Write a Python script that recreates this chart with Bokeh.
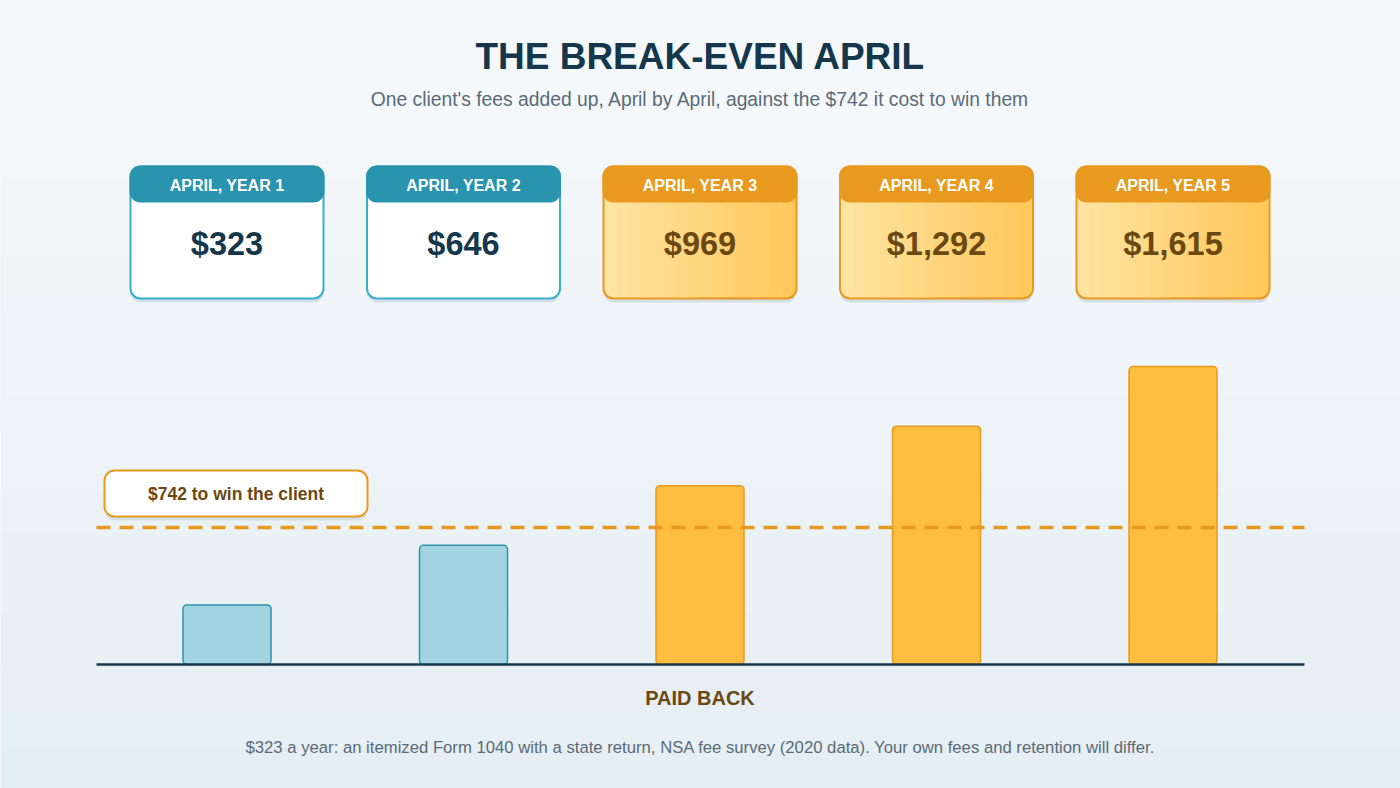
from bokeh.core.properties import value
from bokeh.embed import file_html
from bokeh.models import ColumnDataSource, Range1d
from bokeh.plotting import figure
from bokeh.resources import INLINE

# data
card_labels = ["APRIL, YEAR 1", "APRIL, YEAR 2", "APRIL, YEAR 3", "APRIL, YEAR 4", "APRIL, YEAR 5"]
cumulative_fees = [323, 646, 969, 1292, 1615]
win_cost = 742

title = "THE BREAK-EVEN APRIL"
subtitle = "One client's fees added up, April by April, against the $742 it cost to win them"
cost_label = "$742 to win the client"
paid_label = "PAID BACK"
footnote = ("$323 a year: an itemized Form 1040 with a state return, NSA fee survey (2020 data). "
            "Your own fees and retention will differ.")

FONT = value("Liberation Sans")
NAVY = "#15374c"
BROWN = "#6b4812"
TEAL = "#2a93ad"
TEAL_EDGE = "#3aafcb"
TEAL_BAR = "#a1d3e1"
AMBER = "#e8991f"
AMBER_BAR = "#ffbe40"
WARM_L = (255, 227, 160)
WARM_R = (255, 200, 92)
GREY = "#5b6b77"
SHADOW = "#d3dfe6"

# canvas geometry: index 0 sits at page x 226.5, $0 at page y 664
W, H = 1400, 788
X0, DX = 226.5, 236.5
Y0, SCALE = 664.0, 0.1845


def xp(page_x):
    return (page_x - X0) / DX


def yp(page_y):
    return (Y0 - page_y) / SCALE


def mix(c0, c1, t):
    return "#%02x%02x%02x" % tuple(round(a + (b - a) * t) for a, b in zip(c0, c1))


p = figure(width=W, height=H, output_backend="svg", toolbar_location=None,
           x_range=Range1d(-X0 / DX, (W - X0) / DX),
           y_range=Range1d(-(H - Y0) / SCALE, Y0 / SCALE),
           min_border=0)
p.axis.visible = False
p.grid.visible = False
p.outline_line_color = None
p.background_fill_color = "#eef4f7"
p.border_fill_color = "#eef4f7"

# soft vertical background gradient
n_bands = 40
band_h = H / n_bands
p.quad(left=xp(0), right=xp(W),
       top=[yp(k * band_h) for k in range(n_bands)],
       bottom=[yp((k + 1) * band_h + 1) for k in range(n_bands)],
       fill_color=[mix((246, 249, 251), (229, 238, 243), k / (n_bands - 1)) for k in range(n_bands)],
       line_color=None)

# title block
p.text(x=[xp(700)], y=[yp(56)], text=[title], text_font=FONT, text_font_size="37px",
       text_font_style="bold", text_color=NAVY, text_align="center", text_baseline="middle")
p.text(x=[xp(700)], y=[yp(99)], text=[subtitle], text_font=FONT, text_font_size="19.3px",
       text_color=GREY, text_align="center", text_baseline="middle")

# cards and bars
card_w = 193 / DX
idx = list(range(len(cumulative_fees)))
paid = [v >= win_cost for v in cumulative_fees]
src = ColumnDataSource(dict(
    x=idx,
    left=[i - card_w / 2 for i in idx],
    mid_l=[i + 1 / DX for i in idx],
    mid_r=[i - 1 / DX for i in idx],
    right=[i + card_w / 2 for i in idx],
    top=cumulative_fees,
    label=card_labels,
    amount=[f"${v:,}" for v in cumulative_fees],
    head=[AMBER if q else TEAL for q in paid],
    edge=[AMBER if q else TEAL_EDGE for q in paid],
    body_l=[mix(WARM_L, WARM_R, 0) if q else "#ffffff" for q in paid],
    body_r=[mix(WARM_L, WARM_R, 1) if q else "#ffffff" for q in paid],
    bar=[AMBER_BAR if q else TEAL_BAR for q in paid],
    bar_edge=[AMBER if q else TEAL for q in paid],
    value_color=[BROWN if q else NAVY for q in paid],
))

p.vbar(x="x", bottom=yp(302), top=yp(170), width=card_w, source=src,
       fill_color=SHADOW, line_color=None, border_radius=10)
# card body in two halves so the rounded corners take the gradient's end colours
p.quad(left="left", right="mid_l", top=yp(166), bottom=yp(298), source=src,
       fill_color="body_l", line_color=None, border_radius=(10, 0, 0, 10))
p.quad(left="mid_r", right="right", top=yp(166), bottom=yp(298), source=src,
       fill_color="body_r", line_color=None, border_radius=(0, 10, 10, 0))

# left-to-right warm gradient inside the paid cards
n_strips = 16
sx, sw, sc = [], [], []
for i, q in zip(idx, paid):
    if not q:
        continue
    inner = (193 - 4) / DX
    for k in range(n_strips):
        sx.append(i - inner / 2 + (k + 0.5) * inner / n_strips)
        sw.append(inner / n_strips * 1.05)
        sc.append(mix(WARM_L, WARM_R, k / (n_strips - 1)))
p.vbar(x=sx, bottom=yp(289), top=yp(196), width=sw, fill_color=sc, line_color=None)
keep = [c for c in range(len(sx)) if 1 <= c % n_strips <= n_strips - 2]
p.vbar(x=[sx[c] for c in keep], bottom=yp(297), top=yp(288), width=[sw[c] for c in keep],
       fill_color=[sc[c] for c in keep], line_color=None)

p.vbar(x="x", bottom=yp(298), top=yp(166), width=card_w, source=src,
       fill_color=None, line_color="edge", line_width=2, border_radius=10)
p.vbar(x="x", bottom=yp(201), top=yp(166), width=card_w, source=src,
       fill_color="head", line_color="head", line_width=2, border_radius=10)
p.vbar(x="x", bottom=yp(195), top=yp(185), width=card_w, source=src,
       fill_color="head", line_color=None)
p.text(x="x", y=yp(185), text="label", source=src, text_font=FONT, text_font_size="16px",
       text_font_style="bold", text_color="#ffffff", text_align="center", text_baseline="middle")
p.text(x="x", y=yp(243), text="amount", source=src, text_font=FONT, text_font_size="32.5px",
       text_font_style="bold", text_color="value_color", text_align="center",
       text_baseline="middle")

p.vbar(x="x", top="top", bottom=0, width=88 / DX, source=src, fill_color="bar",
       line_color="bar_edge", line_width=1.5, border_radius=4)

# cost line and its label
p.segment(x0=[xp(96)], x1=[xp(1304)], y0=[win_cost], y1=[win_cost], line_color=AMBER,
          line_width=3.5, line_dash="14 9")
p.quad(left=[xp(104)], right=[xp(367)], top=[yp(473)], bottom=[yp(520)],
       fill_color=SHADOW, line_color=None, border_radius=10)
p.quad(left=[xp(104)], right=[xp(367)], top=[yp(470)], bottom=[yp(516)],
       fill_color="#ffffff", line_color=AMBER, line_width=2, border_radius=10)
p.text(x=[xp(235.5)], y=[yp(493)], text=[cost_label], text_font=FONT, text_font_size="17.5px",
       text_font_style="bold", text_color=BROWN, text_align="center", text_baseline="middle")

# baseline
p.segment(x0=[xp(96)], x1=[xp(1304)], y0=[0], y1=[0], line_color="#1b3a4c", line_width=2.5)

first_paid = paid.index(True)
p.text(x=[first_paid], y=[yp(697)], text=[paid_label], text_font=FONT, text_font_size="20px",
       text_font_style="bold", text_color=BROWN, text_align="center", text_baseline="middle")

p.text(x=[xp(700)], y=[yp(747)], text=[footnote], text_font=FONT, text_font_size="16.7px",
       text_color=GREY, text_align="center", text_baseline="middle")

open("out.html", "w").write(file_html(p, INLINE))
